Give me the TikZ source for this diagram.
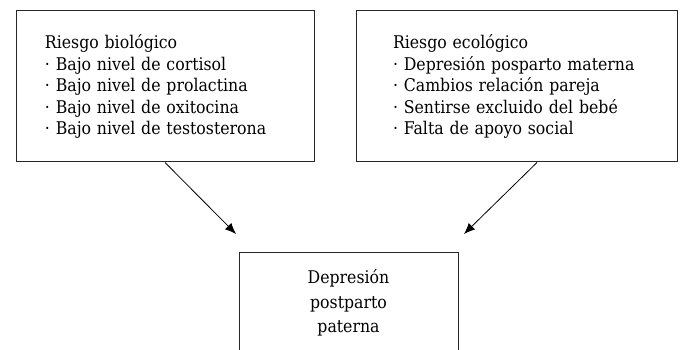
\documentclass[tikz,border=0pt]{standalone}
\usepackage{fontspec}
\setmainfont{DejaVu Serif Condensed}
\usetikzlibrary{arrows.meta}
\tikzset{box/.style = {draw=black!85, line width=1pt, rectangle, inner sep=0pt,
                       font=\fontsize{17.5}{21.5}\selectfont}}
\tikzset{arr/.style = {-{Latex[length=11pt,width=9pt]}, line width=0.8pt}}

\begin{document}
\begin{tikzpicture}[x=1pt,y=-1pt]
	\useasboundingbox (0,0) rectangle (681,350);
	\node [box, minimum width=298, minimum height=151, text width=240pt, align=left] (bio) at (165, 86.5)
		{Riesgo biológico\\· Bajo nivel de cortisol\\· Bajo nivel de prolactina\\· Bajo nivel de oxitocina\\· Bajo nivel de testosterona};
	\node [box, minimum width=321, minimum height=151, text width=247pt, align=left] (eco) at (516.5, 86.5)
		{Riesgo ecológico\\· Depresión posparto materna\\· Cambios relación pareja\\· Sentirse excluido del bebé\\· Falta de apoyo social};
	\node [box, minimum width=219, minimum height=100, align=center, font=\fontsize{17.5}{24.5}\selectfont] (dpp) at (348.5, 303)
		{Depresión\\postparto\\paterna};
	\coordinate (tipL) at (236, 234);
	\coordinate (tipR) at (464, 234);
	\draw [arr] (bio.south) -- (tipL);
	\draw [arr] ([xshift=20.5pt]eco.south) -- (tipR);
\end{tikzpicture}
\end{document}
